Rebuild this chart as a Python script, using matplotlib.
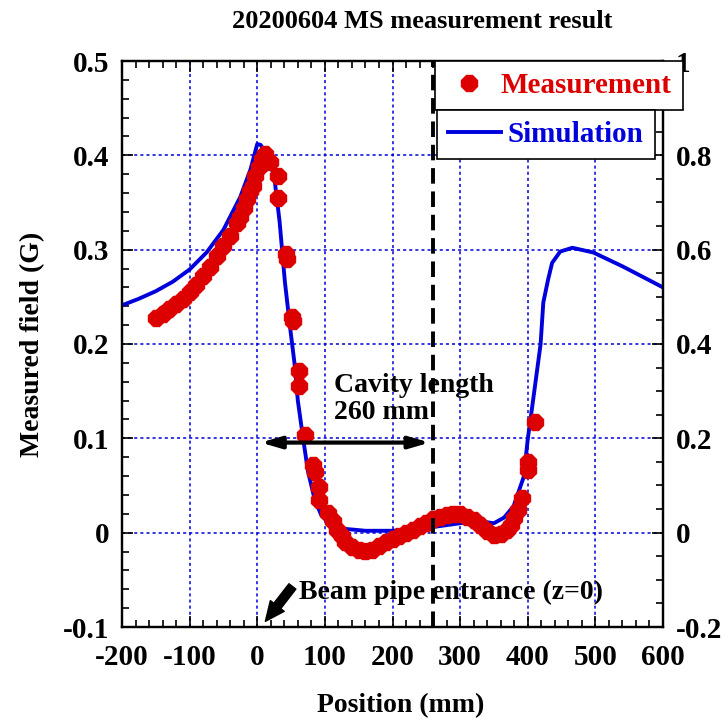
import matplotlib
matplotlib.use('Agg')
import matplotlib.pyplot as plt
from matplotlib.lines import Line2D
from matplotlib.ticker import MultipleLocator, FuncFormatter

plt.rcParams['font.family'] = 'Liberation Serif'
plt.rcParams['font.weight'] = 'bold'
plt.rcParams['axes.unicode_minus'] = False

# Measurement (position in mm, field in G)
meas_x = [-150, -140, -130, -120, -110, -100, -90, -80, -70, -60, -50, -40, -30, -25, -20,
          -15, -10, -7, -3, 2, 7, 12, 19, 30, 31, 43, 44, 52, 53, 62, 62, 71, 83, 85, 92, 92,
          105, 112, 118, 125, 130, 140, 150, 160, 170, 180, 190, 200, 210, 220, 230, 240,
          250, 260, 270, 280, 290, 300, 310, 320, 330, 340, 350, 360, 370, 375, 379, 385,
          392, 400, 400, 411]
meas_y = [0.228, 0.232, 0.237, 0.242, 0.248, 0.255, 0.263, 0.272, 0.282, 0.293, 0.304, 0.315,
          0.328, 0.335, 0.344, 0.354, 0.362, 0.367, 0.378, 0.388, 0.396, 0.401, 0.393, 0.378,
          0.355, 0.295, 0.290, 0.229, 0.224, 0.171, 0.156, 0.104, 0.072, 0.064, 0.048, 0.035,
          0.021, 0.012, 0.003, -0.004, -0.010, -0.015, -0.018, -0.019, -0.018, -0.014, -0.010,
          -0.007, -0.004, 0.000, 0.003, 0.007, 0.010, 0.014, 0.017, 0.019, 0.020, 0.020,
          0.017, 0.013, 0.008, 0.002, -0.002, -0.001, 0.003, 0.008, 0.016, 0.024, 0.037,
          0.066, 0.075, 0.117]

# Simulation
sim_x = [-200, -175, -150, -125, -100, -75, -50, -25, -10, 0, 5, 15, 25, 33, 41, 49, 55, 60,
         68, 75, 85, 95, 110, 130, 160, 200, 240, 280, 310, 330, 350, 365, 379, 394, 400, 408,
         419, 423, 430, 436, 448, 466, 497, 541, 600]
sim_y = [0.241, 0.248, 0.256, 0.266, 0.279, 0.297, 0.321, 0.356, 0.385, 0.412, 0.411, 0.400,
         0.378, 0.330, 0.265, 0.215, 0.180, 0.140, 0.099, 0.065, 0.035, 0.018, 0.008, 0.004,
         0.002, 0.002, 0.004, 0.008, 0.011, 0.012, 0.010, 0.016, 0.028, 0.059, 0.099, 0.141,
         0.200, 0.244, 0.268, 0.286, 0.298, 0.302, 0.297, 0.282, 0.260]

red = '#dd0000'
blue = '#0000dd'

fig = plt.figure(figsize=(7.24, 7.21), dpi=100)
ax = fig.add_axes([122/724, 94/721, 541/724, 566/721])

ax.plot(sim_x, sim_y, color=blue, lw=2.8, zorder=3)
ax.plot(meas_x, meas_y, ls='none', marker='8', ms=12, color=red, mec=red, zorder=4)

ax.axvline(260, color='black', lw=2.8, ls=(0, (4, 2)), zorder=5)

ax.set_xlim(-200, 600)
ax.set_ylim(-0.1, 0.5)
ax.xaxis.set_major_locator(MultipleLocator(100))
ax.xaxis.set_minor_locator(MultipleLocator(20))
ax.yaxis.set_major_locator(MultipleLocator(0.1))
ax.yaxis.set_minor_locator(MultipleLocator(0.02))
fmt = FuncFormatter(lambda v, p: '%g' % round(v, 3))
ax.yaxis.set_major_formatter(fmt)
ax.grid(True, color=blue, ls=(0, (2, 2)), lw=1.1)
ax.tick_params(which='both', direction='in', top=True, labelsize=21, width=1.2)
ax.tick_params(which='major', length=8)
ax.tick_params(which='minor', length=5)
ax.tick_params(axis='x', which='major', pad=12)
ax.tick_params(axis='y', which='major', pad=9)
for s in ax.spines.values():
    s.set_linewidth(1.6)

ax2 = ax.twinx()
ax2.set_ylim(-0.2, 1.0)
ax2.yaxis.set_major_locator(MultipleLocator(0.2))
ax2.yaxis.set_minor_locator(MultipleLocator(0.05))
ax2.yaxis.set_major_formatter(fmt)
ax2.tick_params(which='both', direction='in', labelsize=21, width=1.2)
ax2.tick_params(which='major', length=8, pad=9)
ax2.tick_params(which='minor', length=5)
for s in ax2.spines.values():
    s.set_linewidth(1.6)

ax.set_xlabel('Position (mm)', fontsize=20, fontweight='bold')
ax.xaxis.set_label_coords(0.515, -0.117)
ax.set_ylabel('Measured field (G)', fontsize=20, fontweight='bold')
ax.yaxis.set_label_coords(-0.142, 0.5)
fig.text(422/724, 1 - 22/721, '20200604 MS measurement result', fontsize=19,
         fontweight='bold', ha='center', va='center')

# cavity length arrow
ax.annotate('', xy=(5, 0.0955), xytext=(255, 0.0955),
            arrowprops=dict(arrowstyle='<|-|>,head_length=1.2,head_width=0.35',
                            color='black', lw=3, shrinkA=0, shrinkB=0), zorder=6)
ax.text(113, 0.142, 'Cavity length\n260 mm', fontsize=20, fontweight='bold',
        ha='left', va='center', linespacing=1.1, zorder=6)

# beam pipe entrance
ax.annotate('', xy=(12, -0.094), xytext=(52, -0.057),
            arrowprops=dict(arrowstyle='simple,head_length=1.0,head_width=0.9,tail_width=0.45',
                            mutation_scale=14, color='black', shrinkA=0, shrinkB=0), zorder=6)
ax.text(62, -0.063, 'Beam pipe entrance (z=0)', fontsize=20, fontweight='bold',
        ha='left', va='center', zorder=6)

# legends
h1 = Line2D([], [], ls='none', marker='8', ms=12, color=red)
leg1 = ax2.legend([h1], ['Measurement'], loc='upper left',
                  bbox_to_anchor=(435/724, 1 - 61/721), bbox_transform=fig.transFigure,
                  fancybox=False, edgecolor='black', framealpha=1, fontsize=21,
                  borderaxespad=0, borderpad=0.38, handlelength=1.6, handletextpad=0.28)
leg1.get_frame().set_linewidth(1.2)
leg1.get_texts()[0].set_color(red)
ax2.add_artist(leg1)
h2 = Line2D([], [], color=blue, lw=2.8)
leg2 = ax2.legend([h2], ['Simulation'], loc='upper left',
                  bbox_to_anchor=(437/724, 1 - 110/721), bbox_transform=fig.transFigure,
                  fancybox=False, edgecolor='black', framealpha=1, fontsize=21,
                  borderaxespad=0, borderpad=0.38, handlelength=1.8, handletextpad=0.25)
leg2.get_frame().set_linewidth(1.2)
leg2.get_texts()[0].set_color(blue)

fig.savefig('out.png', dpi=100)
